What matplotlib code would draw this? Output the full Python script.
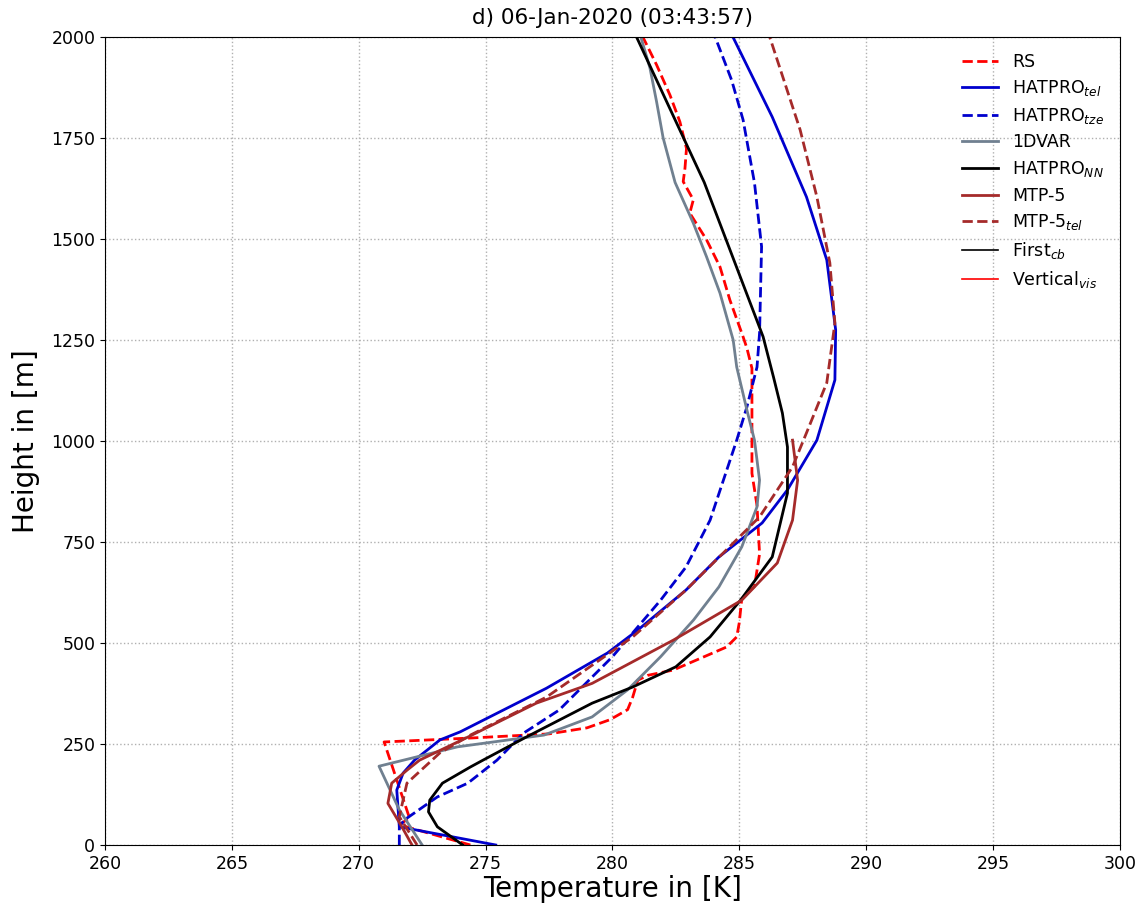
import matplotlib.pyplot as plt
from matplotlib.lines import Line2D

# radiosonde
rs_h = [0, 50, 67, 255, 265, 275, 290, 310, 335, 366, 408, 420, 433, 490, 515, 550,
        610, 640, 720, 840, 920, 1020, 1130, 1180, 1230, 1258, 1349, 1431, 1498,
        1564, 1597, 1642, 1675, 1724, 1790, 1856, 1931, 2000]
rs_t = [274.4, 271.6, 272.0, 271.0, 274.5, 277.5, 279.0, 279.9, 280.6, 280.8, 281.0,
        281.4, 282.4, 284.5, 284.9, 285.0, 285.1, 285.6, 285.8, 285.7, 285.5, 285.5,
        285.5, 285.5, 285.3, 285.15, 284.63, 284.24, 283.71, 283.05, 283.19, 282.79,
        282.86, 282.92, 282.66, 282.27, 281.74, 281.2]

# HATPRO, elevation scan
tel_h = [0, 45, 136, 178, 210, 260, 280, 388, 475, 532, 631, 713, 797, 879, 1002,
         1151, 1275, 1448, 1604, 1802, 2000]
tel_t = [275.4, 271.6, 271.5, 271.75, 272.2, 273.2, 274.0, 277.4, 279.8, 281.0,
         282.9, 284.2, 285.9, 286.9, 288.06, 288.77, 288.8, 288.45, 287.65, 286.3,
         284.75]

# HATPRO, zenith
tze_h = [0, 45, 62, 119, 153, 210, 277, 334, 466, 606, 688, 804, 1002, 1084,
         1183, 1267, 1481, 1639, 1795, 1893, 2000]
tze_t = [271.6, 271.6, 271.8, 273.1, 274.3, 275.45, 276.5, 277.9, 280.0, 281.9,
         282.9, 283.85, 284.9, 285.3, 285.7, 285.8, 285.88, 285.6, 285.15, 284.7,
         284.05]

# 1DVAR retrieval
var_h = [0, 87, 195, 243, 272, 317, 384, 466, 557, 639, 738, 837, 903, 1002, 1077,
         1183, 1250, 1366, 1456, 1539, 1640, 1750, 1840, 1923, 2000]
var_t = [272.5, 271.6, 270.8, 273.9, 277.3, 279.2, 280.6, 281.9, 283.2, 284.2,
         285.1, 285.7, 285.8, 285.6, 285.3, 284.9, 284.76, 284.24, 283.71, 283.19,
         282.47, 282.0, 281.74, 281.48, 281.12]

# neural network retrieval
nn_h = [0, 45, 82, 111, 153, 193, 210, 267, 351, 391, 441, 515, 606, 713, 871,
        985, 1069, 1158, 1258, 1640, 2000]
nn_t = [274.1, 273.1, 272.75, 272.8, 273.3, 274.4, 274.9, 276.6, 279.2, 280.8,
        282.5, 283.85, 285.05, 286.3, 286.9, 286.9, 286.7, 286.35, 285.94, 283.62,
        280.95]

# MTP-5
mtp_h = [0, 45, 103, 153, 185, 210, 267, 351, 400, 507, 606, 698, 804, 903, 1002]
mtp_t = [272.1, 271.7, 271.15, 271.3, 271.9, 272.4, 274.3, 277.0, 279.2, 282.4,
         285.1, 286.5, 287.1, 287.3, 287.1]

# MTP-5, elevation scan
mtpt_h = [0, 70, 153, 228, 272, 366, 515, 631, 812, 936, 1020, 1144, 1292, 1441,
          1604, 1770, 2000]
mtpt_t = [272.3, 271.6, 271.9, 273.2, 274.4, 277.4, 280.8, 282.9, 285.8, 287.1,
          287.65, 288.45, 288.77, 288.57, 288.06, 287.4, 286.2]

fig = plt.figure(figsize=(11.38, 9.08), dpi=100)
ax = fig.add_axes([0.0923, 0.0694, 0.8917, 0.8899])

lw = 2
ax.plot(rs_t, rs_h, '--', color='red', lw=lw, label='RS')
ax.plot(tel_t, tel_h, '-', color='mediumblue', lw=lw, label='HATPRO$_{tel}$')
ax.plot(tze_t, tze_h, '--', color='mediumblue', lw=lw, label='HATPRO$_{tze}$')
ax.plot(var_t, var_h, '-', color='slategrey', lw=lw, label='1DVAR')
ax.plot(nn_t, nn_h, '-', color='black', lw=lw, label='HATPRO$_{NN}$')
ax.plot(mtp_t, mtp_h, '-', color='brown', lw=lw, label='MTP-5')
ax.plot(mtpt_t, mtpt_h, '--', color='brown', lw=lw, label='MTP-5$_{tel}$')

handles, labels = ax.get_legend_handles_labels()
handles += [Line2D([], [], color='black', lw=1.2), Line2D([], [], color='red', lw=1.2)]
labels += ['First$_{cb}$', 'Vertical$_{vis}$']
ax.legend(handles, labels, loc='upper right', frameon=False, fontsize=12.5,
          labelspacing=0.44, borderaxespad=0.5, handlelength=2.1)

ax.set_xlim(260, 300)
ax.set_ylim(0, 2000)
ax.set_xticks(range(260, 301, 5))
ax.set_yticks(range(0, 2001, 250))
ax.tick_params(labelsize=12.5)
ax.grid(True, linestyle=':', color='#b0b0b0', lw=1)
ax.set_xlabel('Temperature in [K]', fontsize=20, labelpad=2)
ax.set_ylabel('Height in [m]', fontsize=20, labelpad=8)
ax.set_title('d) 06-Jan-2020 (03:43:57)', fontsize=15.5, pad=9)

fig.savefig('out.png', dpi=100)
